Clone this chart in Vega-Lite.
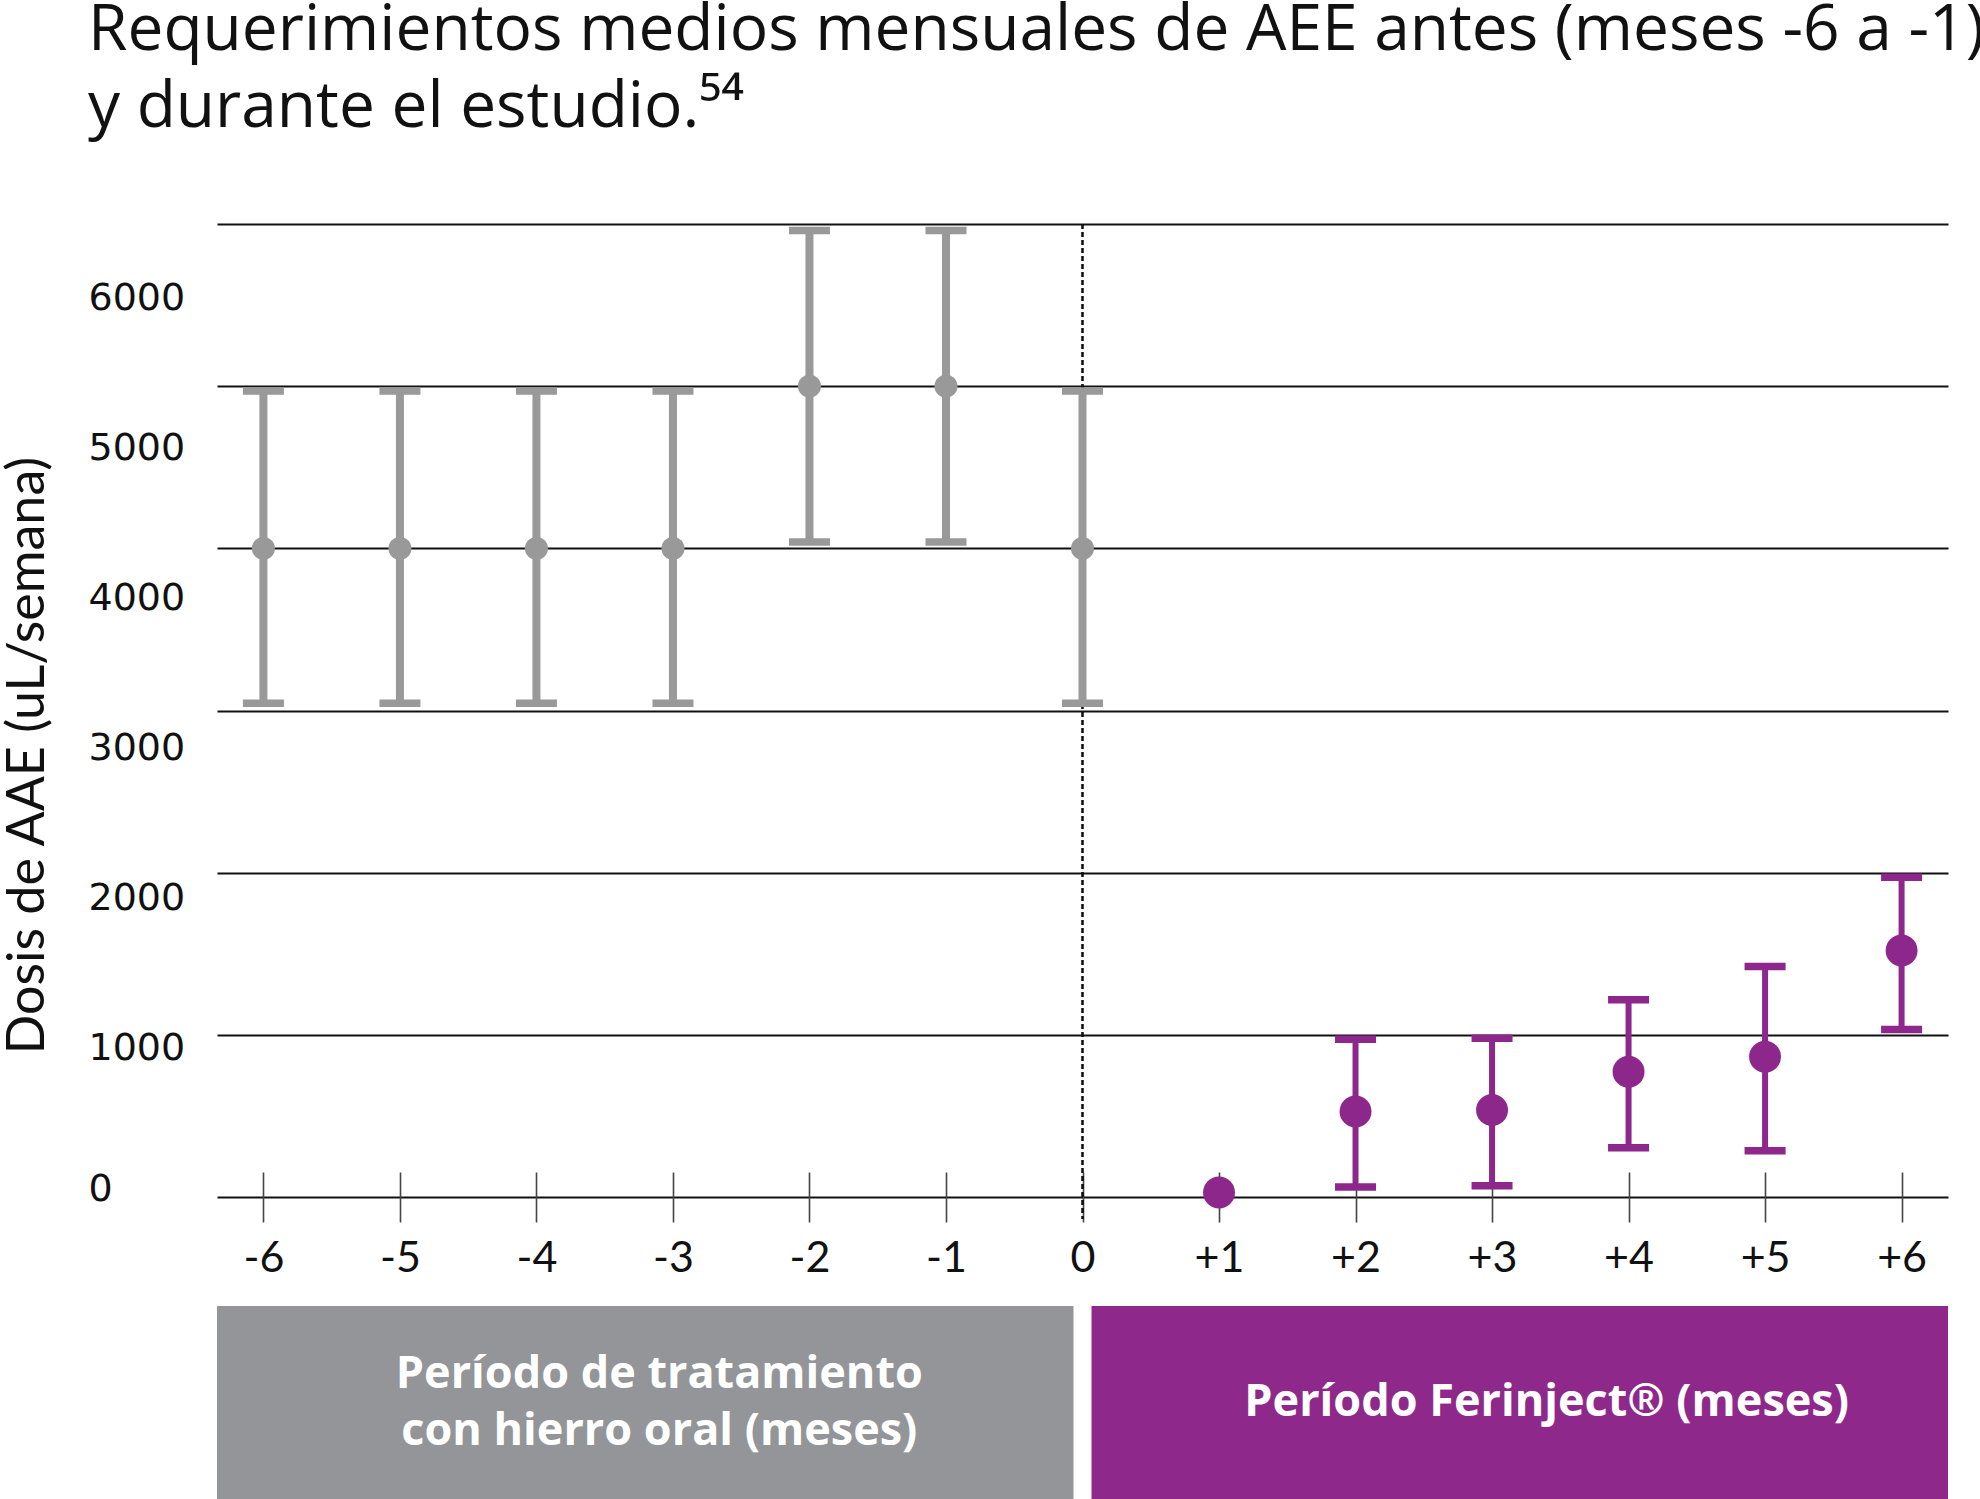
{
  "$schema": "https://vega.github.io/schema/vega-lite/v6.json",
  "autosize": "none",
  "width": 1731,
  "height": 1275,
  "padding": {"left": 217, "top": 224, "right": 32, "bottom": 0},
  "background": "white",
  "title": {
    "text": ["Requerimientos medios mensuales de AEE antes (meses -6 a -1)", "y durante el estudio.⁵⁴"],
    "anchor": "start",
    "frame": "group",
    "dx": -129,
    "offset": 83,
    "font": "Open Sans",
    "fontSize": 64,
    "fontWeight": "normal",
    "color": "#111111",
    "lineHeight": 77
  },
  "datasets": {
    "months": [
      {"month": -6, "mean": 4000, "lower": 3045, "upper": 4970, "period": "oral"},
      {"month": -5, "mean": 4000, "lower": 3045, "upper": 4970, "period": "oral"},
      {"month": -4, "mean": 4000, "lower": 3045, "upper": 4970, "period": "oral"},
      {"month": -3, "mean": 4000, "lower": 3045, "upper": 4970, "period": "oral"},
      {"month": -2, "mean": 5000, "lower": 4040, "upper": 5960, "period": "oral"},
      {"month": -1, "mean": 5000, "lower": 4040, "upper": 5960, "period": "oral"},
      {"month": 0, "mean": 4000, "lower": 3045, "upper": 4970, "period": "oral"},
      {"month": 1, "mean": 29, "lower": null, "upper": null, "period": "ferinject"},
      {"month": 2, "mean": 528, "lower": 62, "upper": 974, "period": "ferinject"},
      {"month": 3, "mean": 537, "lower": 70, "upper": 980, "period": "ferinject"},
      {"month": 4, "mean": 773, "lower": 305, "upper": 1217, "period": "ferinject"},
      {"month": 5, "mean": 866, "lower": 286, "upper": 1422, "period": "ferinject"},
      {"month": 6, "mean": 1521, "lower": 1034, "upper": 1973, "period": "ferinject"}
    ],
    "bands": [
      {"period": "oral", "start": -6.34, "end": -0.066, "mid": -3.1, "label": "Período de tratamiento\ncon hierro oral (meses)"},
      {"period": "ferinject", "start": 0.066, "end": 6.34, "mid": 3.4, "label": "Período Ferinject® (meses)"}
    ]
  },
  "layer": [
    {
      "data": {"name": "bands"},
      "mark": {"type": "rect"},
      "encoding": {
        "x": {
          "field": "start",
          "type": "quantitative",
          "scale": {"domain": [-6.34, 6.34], "nice": false, "zero": false},
          "axis": {
            "values": [-6, -5, -4, -3, -2, -1, 0, 1, 2, 3, 4, 5, 6],
            "title": null,
            "grid": false,
            "domain": false,
            "ticks": true,
            "tickSize": 50,
            "tickColor": "#444444",
            "tickWidth": 1.6,
            "offset": -327,
            "labelPadding": 36,
            "labelBaseline": "middle",
            "labelFont": "Lato",
            "labelFontSize": 43,
            "labelColor": "#111111",
            "labelFlush": false,
            "labelOverlap": false,
            "labelExpr": "datum.value > 0 ? '+' + datum.value : '' + datum.value"
          }
        },
        "x2": {"field": "end"},
        "y": {
          "datum": -671,
          "type": "quantitative",
          "scale": {"domain": [-1861, 6000], "nice": false, "zero": false},
          "axis": {
            "values": [0, 1000, 2000, 3000, 4000, 5000, 6000],
            "format": "d",
            "title": "Dosis de AAE (uL/semana)",
            "grid": true,
            "gridColor": "#111111",
            "gridWidth": 2.2,
            "domain": false,
            "ticks": false,
            "tickSize": 0,
            "labelAlign": "left",
            "labelPadding": 129,
            "labelFont": "DejaVu Sans",
            "labelFontSize": 38,
            "labelColor": "#111111",
            "labelOffset": {"expr": "datum.value == 0 ? -8 : 2 + datum.value * 0.012"},
            "titleFont": "Lato",
            "titleFontSize": 52,
            "titleFontWeight": "normal",
            "titleColor": "#111111",
            "titleX": -190,
            "titleY": 531,
            "titleAngle": 270,
            "titleAlign": "center",
            "titleBaseline": "middle"
          }
        },
        "y2": {"datum": -1861},
        "fill": {
          "field": "period",
          "type": "nominal",
          "scale": {"domain": ["oral", "ferinject"], "range": ["#939598", "#8f288b"]},
          "legend": null
        }
      }
    },
    {
      "data": {"name": "bands"},
      "transform": [{"filter": "datum.period == 'oral'"}],
      "mark": {"type": "text", "color": "white", "font": "Open Sans", "fontWeight": "bold", "fontSize": 45, "lineHeight": 57, "lineBreak": "\n", "align": "center", "baseline": "middle"},
      "encoding": {
        "x": {"field": "mid", "type": "quantitative"},
        "y": {"datum": -1093, "type": "quantitative"},
        "text": {"field": "label"}
      }
    },
    {
      "data": {"name": "bands"},
      "transform": [{"filter": "datum.period == 'ferinject'"}],
      "mark": {"type": "text", "color": "white", "font": "Open Sans", "fontWeight": "bold", "fontSize": 45, "align": "center", "baseline": "middle"},
      "encoding": {
        "x": {"field": "mid", "type": "quantitative"},
        "y": {"datum": -1264, "type": "quantitative"},
        "text": {"field": "label"}
      }
    },
    {
      "data": {"name": "months"},
      "mark": {"type": "rule", "color": "#111111", "strokeWidth": 1.2, "strokeDash": [5, 3]},
      "encoding": {
        "x": {"datum": 0, "type": "quantitative"},
        "y": {"datum": 6000, "type": "quantitative"},
        "y2": {"datum": -135}
      }
    },
    {
      "data": {"name": "months"},
      "mark": {"type": "rule"},
      "encoding": {
        "x": {"field": "month", "type": "quantitative"},
        "y": {"field": "lower", "type": "quantitative"},
        "y2": {"field": "upper"},
        "color": {
          "field": "period",
          "type": "nominal",
          "scale": {"domain": ["oral", "ferinject"], "range": ["#999999", "#8e278c"]},
          "legend": null
        },
        "strokeWidth": {
          "field": "period",
          "type": "nominal",
          "scale": {"domain": ["oral", "ferinject"], "range": [8, 6]},
          "legend": null
        }
      }
    },
    {
      "data": {"name": "months"},
      "mark": {"type": "tick", "orient": "horizontal", "thickness": 7.5, "size": 41, "opacity": 1},
      "encoding": {
        "x": {"field": "month", "type": "quantitative"},
        "y": {"field": "lower", "type": "quantitative"},
        "color": {
          "field": "period",
          "type": "nominal",
          "scale": {"domain": ["oral", "ferinject"], "range": ["#999999", "#8e278c"]},
          "legend": null
        }
      }
    },
    {
      "data": {"name": "months"},
      "mark": {"type": "tick", "orient": "horizontal", "thickness": 7.5, "size": 41, "opacity": 1},
      "encoding": {
        "x": {"field": "month", "type": "quantitative"},
        "y": {"field": "upper", "type": "quantitative"},
        "color": {
          "field": "period",
          "type": "nominal",
          "scale": {"domain": ["oral", "ferinject"], "range": ["#999999", "#8e278c"]},
          "legend": null
        }
      }
    },
    {
      "data": {"name": "months"},
      "mark": {"type": "point", "filled": true, "opacity": 1},
      "encoding": {
        "x": {"field": "month", "type": "quantitative"},
        "y": {"field": "mean", "type": "quantitative"},
        "color": {
          "field": "period",
          "type": "nominal",
          "scale": {"domain": ["oral", "ferinject"], "range": ["#999999", "#8e278c"]},
          "legend": null
        },
        "size": {
          "field": "period",
          "type": "nominal",
          "scale": {"domain": ["oral", "ferinject"], "range": [530, 1020]},
          "legend": null
        }
      }
    }
  ],
  "config": {
    "view": {"stroke": null},
    "font": "Lato"
  }
}
